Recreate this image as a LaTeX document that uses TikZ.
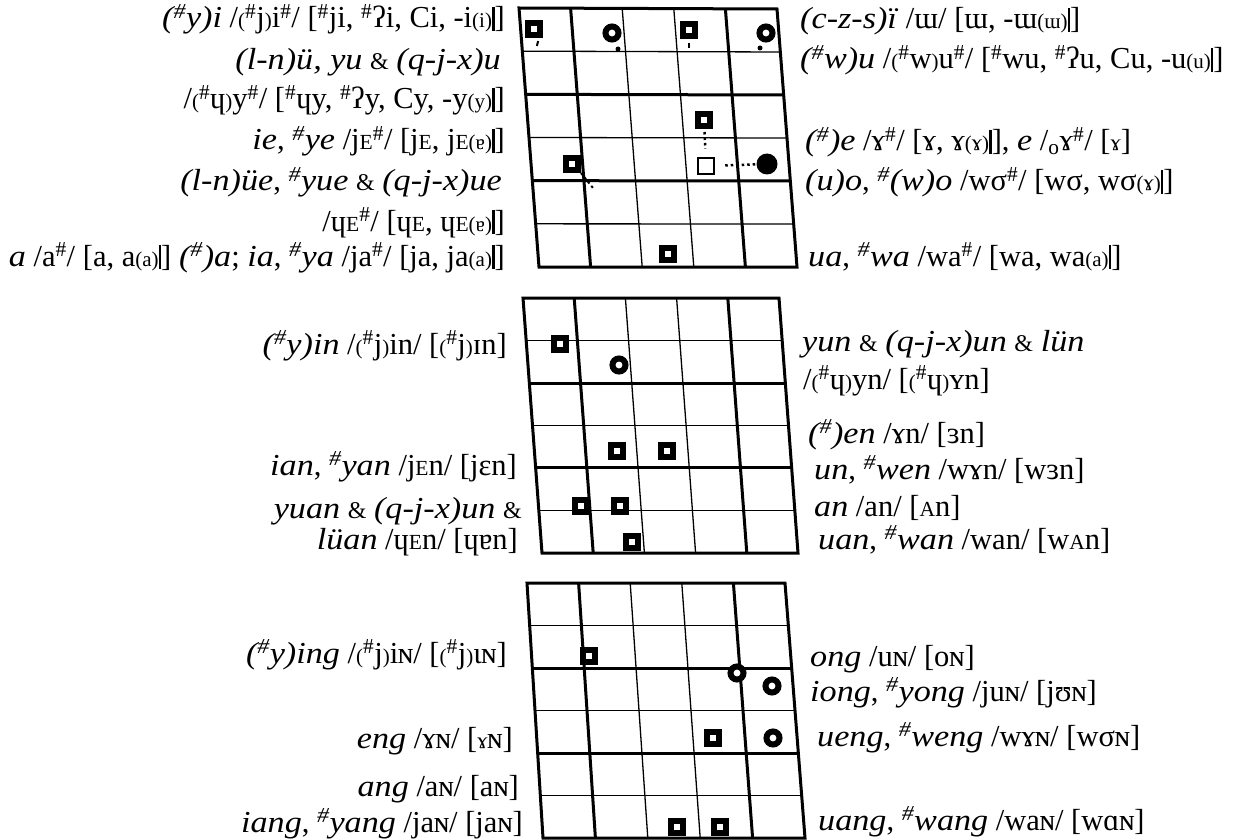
\documentclass[tikz,border=0pt]{standalone}
\usepackage{fontspec}
\setmainfont{Liberation Serif}[ItalicFeatures={FakeStretch=1.12}]
\usetikzlibrary{calc}
\newcommand\hs{\textsuperscript{\#}}
\newcommand\sm[1]{{\fontsize{21}{21}\selectfont #1}}
\newcommand\amp{{\fontsize{24}{24}\selectfont\upshape\&}}
\newcommand\gbar{\rule[-3pt]{2.6pt}{24pt}}
\newcommand\sE{{\fontsize{21.5}{21}\selectfont E}}
\newcommand\sA{{\fontsize{21.5}{21}\selectfont A}}
\newcommand\sR{{\fontsize{23}{21}\selectfont ɤ}}
\newcommand\mkgrid[1]{%
  \foreach \k/\w in {1/gthin,2/gthick,3/gthin,4/gthick,5/gthin}
    \draw[\w] ($(#1tl)!\k/6!(#1bl)$) -- ($(#1tr)!\k/6!(#1br)$);
  \foreach \k/\w in {1/gthick,2/gthin,3/gthin,4/gthick}
    \draw[\w] ($(#1tl)!\k/5!(#1tr)$) -- ($(#1bl)!\k/5!(#1br)$);
  \draw[gthick] (#1tl) -- (#1tr) -- (#1br) -- (#1bl) -- cycle;
}
\tikzset{
  gthick/.style={line width=3pt},
  gthin/.style={line width=1.3pt},
  lt/.style={anchor=base east, inner sep=0pt, font=\fontsize{30.5}{34}\selectfont},
  rt/.style={anchor=base west, inner sep=0pt, font=\fontsize{30.5}{34}\selectfont},
  sqm/.style={rectangle, draw, line width=6pt, fill=white, minimum size=12pt, inner sep=0pt},
  ringm/.style={circle, draw, line width=6pt, fill=white, minimum size=13pt, inner sep=0pt},
  opensq/.style={rectangle, draw, line width=2.5pt, fill=white, minimum size=16pt, inner sep=0pt},
  fdotm/.style={circle, fill, minimum size=21pt, inner sep=0pt},
  tickm/.style={rectangle, fill, minimum width=2pt, minimum height=5pt, inner sep=0pt},
  sdotm/.style={circle, fill, minimum size=5pt, inner sep=0pt},
  dotline/.style={line width=2.5pt, dash pattern=on 2.5pt off 3pt},
}
\begin{document}
\begin{tikzpicture}[x=1pt,y=-1pt]
\useasboundingbox (0,0) rectangle (1235,840);
% grids
\coordinate (Atl) at (519,8);   \coordinate (Atr) at (777,9);
\coordinate (Abl) at (539,267); \coordinate (Abr) at (797,267);
\coordinate (Btl) at (523,298); \coordinate (Btr) at (779,298);
\coordinate (Bbl) at (542,553); \coordinate (Bbr) at (798,553);
\coordinate (Ctl) at (527,583); \coordinate (Ctr) at (785,583);
\coordinate (Cbl) at (543,838); \coordinate (Cbr) at (805,838);
\mkgrid{A}
\mkgrid{B}
\mkgrid{C}
% markers top grid
\node[sqm] (a1) at (534,29) {};
\node[tickm, rotate=-15] (a1t) at (537.5,43.5) {};
\node[ringm] (a2) at (612,33) {};
\node[sdotm] (a2d) at (618,49) {};
\node[sqm] (a3) at (689,30) {};
\node[tickm] (a3t) at (689,46) {};
\node[ringm] (a4) at (766,33) {};
\node[sdotm] (a4d) at (760,48) {};
\node[sqm] (a5) at (704,120) {};
\node[opensq] (a6) at (706,166) {};
\node[fdotm] (a7) at (767,164) {};
\node[sqm] (a8) at (572,164) {};
\coordinate (a8e) at (593,188);
\node[sqm] (a9) at (668,254) {};
\draw[dotline, shorten <=3pt, shorten >=8pt] (a5) -- (a6);
\draw[dotline, shorten <=10pt, shorten >=1pt] (a6) -- (a7);
\draw[dotline, line width=2pt] (a8.south east) -- (a8e);
% markers middle grid
\node[sqm] (b1) at (560,344) {};
\node[ringm] (b2) at (619,365) {};
\node[sqm] (b3) at (617,451) {};
\node[sqm] (b4) at (667,451) {};
\node[sqm] (b5) at (581,506) {};
\node[sqm] (b6) at (620,506) {};
\node[sqm] (b7) at (632,542) {};
% markers bottom grid
\node[sqm] (c1) at (589,656) {};
\node[ringm] (c2) at (737,673) {};
\node[ringm] (c3) at (772,686) {};
\node[sqm] (c4) at (713,738) {};
\node[ringm] (c5) at (773,738) {};
\node[sqm] (c6) at (677,827) {};
\node[sqm] (c7) at (720,827) {};
% texts top left
\node[lt] (l1) at (505,28) {\textit{(\hs y)i} /\sm{(}\hs j\sm{)}i\hs/ [\hs ji, \hs ʔi, Ci, -i\sm{(i)}\gbar]};
\node[lt] (l2) at (501,70) {\textit{(l-n)ü, yu} \amp\ \textit{(q-j-x)u}};
\node[lt] (l3) at (505,109) {/\sm{(}\hs ɥ\sm{)}y\hs/ [\hs ɥy, \hs ʔy, Cy, -y\sm{(y)}\gbar]};
\node[lt] (l4) at (505,150) {\textit{ie}, \textit{\hs ye} /j\sE\hs/ [j\sE, j\sE\sm{(ɐ)}\gbar]};
\node[lt] (l5) at (502,191) {\textit{(l-n)üe}, \textit{\hs yue} \amp\ \textit{(q-j-x)ue}};
\node[lt] (l6) at (505,231) {/ɥ\sE\hs/ [ɥ\sE, ɥ\sE\sm{(ɐ)}\gbar]};
\node[lt] (l7) at (505,266) {\textit{a} /a\hs/ [a, a\sm{(a)}\gbar] \textit{(\hs)a}; \textit{ia}, \textit{\hs ya} /ja\hs/ [ja, ja\sm{(a)}\gbar]};
% texts top right
\node[rt] (r1) at (800,29) {\textit{(c-z-s)ï} /ɯ/ [ɯ, -ɯ\sm{(ɯ)}\gbar]};
\node[rt] (r2) at (800,69) {\textit{(\hs w)u} /\sm{(}\hs w\sm{)}u\hs/ [\hs wu, \hs ʔu, Cu, -u\sm{(u)}\gbar]};
\node[rt] (r3) at (805,151) {\textit{(\hs)e} /ɤ\hs/ [ɤ, ɤ\sm{(\sR)}\gbar], \textit{e} /\textsubscript{o}ɤ\hs/ [\sR]};
\node[rt] (r4) at (805,191) {\textit{(u)o}, \textit{\hs(w)o} /wσ\hs/ [wσ, wσ\sm{(\sR)}\gbar]};
\node[rt] (r5) at (808,266) {\textit{ua}, \textit{\hs wa} /wa\hs/ [wa, wa\sm{(a)}\gbar]};
% texts middle
\node[lt] (m1) at (507,354) {\textit{(\hs y)in} /\sm{(}\hs j\sm{)}in/ [\sm{(}\hs j\sm{)}ɪn]};
\node[lt] (m2) at (517,475) {\textit{ian}, \textit{\hs yan} /j\sE n/ [jɛn]};
\node[lt] (m3) at (522,518) {\textit{yuan} \amp\ \textit{(q-j-x)un} \amp};
\node[lt] (m4) at (518,549) {\textit{lüan} /ɥ\sE n/ [ɥɐn]};
\node[rt] (m5) at (802,351) {\textit{yun} \amp\ \textit{(q-j-x)un} \amp\ \textit{lün}};
\node[rt] (m6) at (803,389) {/\sm{(}\hs ɥ\sm{)}yn/ [\sm{(}\hs ɥ\sm{)}ʏn]};
\node[rt] (m7) at (808,443) {\textit{(\hs)en} /ɤn/ [ɜn]};
\node[rt] (m8) at (814,479) {\textit{un}, \textit{\hs wen} /wɤn/ [wɜn]};
\node[rt] (m9) at (814,516) {\textit{an} /an/ [\sA n]};
\node[rt] (m10) at (818,549) {\textit{uan}, \textit{\hs wan} /wan/ [w\sA n]};
% texts bottom
\node[lt] (n1) at (507,663) {\textit{(\hs y)ing} /\sm{(}\hs j\sm{)}iɴ/ [\sm{(}\hs j\sm{)}ɩɴ]};
\node[lt] (n2) at (513,748) {\textit{eng} /ɤɴ/ [\sR ɴ]};
\node[lt] (n3) at (519,796) {\textit{ang} /aɴ/ [aɴ]};
\node[lt] (n4) at (523,832) {\textit{iang}, \textit{\hs yang} /jaɴ/ [jaɴ]};
\node[rt] (n5) at (810,666) {\textit{ong} /uɴ/ [oɴ]};
\node[rt] (n6) at (810,701) {\textit{iong}, \textit{\hs yong} /juɴ/ [jʊɴ]};
\node[rt] (n7) at (817,746) {\textit{ueng}, \textit{\hs weng} /wɤɴ/ [wσɴ]};
\node[rt] (n8) at (818,830) {\textit{uang}, \textit{\hs wang} /waɴ/ [wɑɴ]};
\end{tikzpicture}
\end{document}
